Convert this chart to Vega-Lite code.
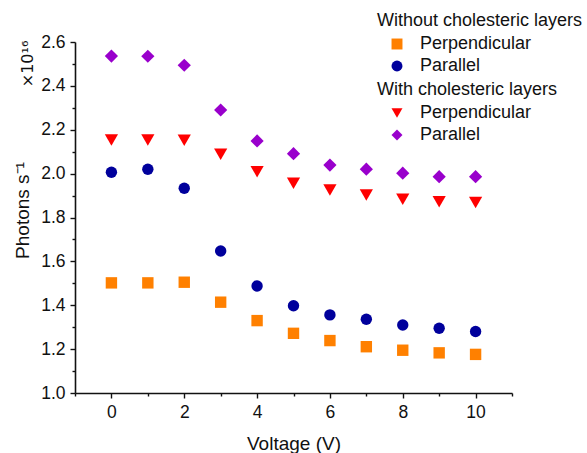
{
  "$schema": "https://vega.github.io/schema/vega-lite/v6.json",
  "width": 437,
  "height": 351,
  "autosize": "none",
  "padding": {"left": 75, "top": 42, "right": 75, "bottom": 60},
  "background": "white",
  "config": {
    "font": "Liberation Sans",
    "view": {"stroke": null},
    "axis": {
      "grid": false,
      "ticks": true,
      "tickColor": "#111",
      "tickSize": 5,
      "tickWidth": 1.4,
      "domainColor": "#111",
      "domainWidth": 1.6,
      "labelColor": "#111",
      "titleColor": "#111",
      "labelFont": "Liberation Sans",
      "titleFont": "Liberation Sans",
      "labelFontSize": 17.5,
      "titleFontSize": 19,
      "titleFontWeight": "normal"
    },
    "legend": {
      "titleFont": "Liberation Sans",
      "labelFont": "Liberation Sans",
      "titleFontSize": 18,
      "titleFontWeight": "normal",
      "titleColor": "#111",
      "labelFontSize": 18,
      "labelColor": "#111",
      "padding": 0,
      "rowPadding": 4,
      "titlePadding": 5,
      "symbolOffset": 11,
      "labelOffset": 14,
      "symbolSize": 120,
      "symbolStrokeWidth": 0,
      "titleLimit": 400,
      "labelLimit": 300
    }
  },
  "data": {
    "values": [
      {"group": "Without", "series": "Perpendicular", "voltage": 0, "photons": 1.502},
      {"group": "Without", "series": "Perpendicular", "voltage": 1, "photons": 1.502},
      {"group": "Without", "series": "Perpendicular", "voltage": 2, "photons": 1.505},
      {"group": "Without", "series": "Perpendicular", "voltage": 3, "photons": 1.414},
      {"group": "Without", "series": "Perpendicular", "voltage": 4, "photons": 1.33},
      {"group": "Without", "series": "Perpendicular", "voltage": 5, "photons": 1.272},
      {"group": "Without", "series": "Perpendicular", "voltage": 6, "photons": 1.239},
      {"group": "Without", "series": "Perpendicular", "voltage": 7, "photons": 1.211},
      {"group": "Without", "series": "Perpendicular", "voltage": 8, "photons": 1.195},
      {"group": "Without", "series": "Perpendicular", "voltage": 9, "photons": 1.183},
      {"group": "Without", "series": "Perpendicular", "voltage": 10, "photons": 1.176},
      {"group": "Without", "series": "Parallel", "voltage": 0, "photons": 2.006},
      {"group": "Without", "series": "Parallel", "voltage": 1, "photons": 2.02},
      {"group": "Without", "series": "Parallel", "voltage": 2, "photons": 1.933},
      {"group": "Without", "series": "Parallel", "voltage": 3, "photons": 1.647},
      {"group": "Without", "series": "Parallel", "voltage": 4, "photons": 1.488},
      {"group": "Without", "series": "Parallel", "voltage": 5, "photons": 1.398},
      {"group": "Without", "series": "Parallel", "voltage": 6, "photons": 1.356},
      {"group": "Without", "series": "Parallel", "voltage": 7, "photons": 1.336},
      {"group": "Without", "series": "Parallel", "voltage": 8, "photons": 1.31},
      {"group": "Without", "series": "Parallel", "voltage": 9, "photons": 1.295},
      {"group": "Without", "series": "Parallel", "voltage": 10, "photons": 1.28},
      {"group": "With", "series": "Perpendicular", "voltage": 0, "photons": 2.153},
      {"group": "With", "series": "Perpendicular", "voltage": 1, "photons": 2.153},
      {"group": "With", "series": "Perpendicular", "voltage": 2, "photons": 2.152},
      {"group": "With", "series": "Perpendicular", "voltage": 3, "photons": 2.088},
      {"group": "With", "series": "Perpendicular", "voltage": 4, "photons": 2.009},
      {"group": "With", "series": "Perpendicular", "voltage": 5, "photons": 1.956},
      {"group": "With", "series": "Perpendicular", "voltage": 6, "photons": 1.925},
      {"group": "With", "series": "Perpendicular", "voltage": 7, "photons": 1.903},
      {"group": "With", "series": "Perpendicular", "voltage": 8, "photons": 1.883},
      {"group": "With", "series": "Perpendicular", "voltage": 9, "photons": 1.872},
      {"group": "With", "series": "Perpendicular", "voltage": 10, "photons": 1.868},
      {"group": "With", "series": "Parallel", "voltage": 0, "photons": 2.536},
      {"group": "With", "series": "Parallel", "voltage": 1, "photons": 2.535},
      {"group": "With", "series": "Parallel", "voltage": 2, "photons": 2.494},
      {"group": "With", "series": "Parallel", "voltage": 3, "photons": 2.29},
      {"group": "With", "series": "Parallel", "voltage": 4, "photons": 2.149},
      {"group": "With", "series": "Parallel", "voltage": 5, "photons": 2.091},
      {"group": "With", "series": "Parallel", "voltage": 6, "photons": 2.039},
      {"group": "With", "series": "Parallel", "voltage": 7, "photons": 2.02},
      {"group": "With", "series": "Parallel", "voltage": 8, "photons": 2.002},
      {"group": "With", "series": "Parallel", "voltage": 9, "photons": 1.986},
      {"group": "With", "series": "Parallel", "voltage": 10, "photons": 1.986}
    ]
  },
  "layer": [
    {
      "transform": [{"filter": "datum.group == 'Without'"}],
      "mark": {"type": "point", "filled": true, "opacity": 1, "size": 130},
      "encoding": {
        "x": {
          "field": "voltage",
          "type": "quantitative",
          "scale": {"domain": [-1, 11], "nice": false, "zero": false},
          "axis": {
            "title": "Voltage (V)",
            "tickCount": 12,
            "labelExpr": "datum.value % 2 == 0 && datum.value >= 0 && datum.value <= 10 ? datum.label : ''",
            "tickSize": {"condition": {"test": "abs(datum.value % 2) == 1", "value": 3}, "value": 5},
            "labelPadding": 5,
            "labelFlush": false,
            "titleBaseline": "alphabetic",
            "titleY": 56
          }
        },
        "y": {
          "field": "photons",
          "type": "quantitative",
          "scale": {"domain": [1.0, 2.6], "nice": false, "zero": false},
          "axis": {
            "title": "Photons s⁻¹",
            "tickCount": 16,
            "format": ".1f",
            "labelExpr": "round(datum.value * 10) % 2 == 0 ? datum.label : ''",
            "tickSize": {"condition": {"test": "round(datum.value * 10) % 2 == 1", "value": 3}, "value": 5},
            "labelPadding": 5,
            "labelFlush": false,
            "titleBaseline": "alphabetic",
            "titleX": -47,
            "titleY": 168
          }
        },
        "color": {
          "field": "series",
          "type": "nominal",
          "scale": {"domain": ["Perpendicular", "Parallel"], "range": ["#FF8000", "#00009C"]},
          "legend": {"title": "Without cholesteric layers", "orient": "none", "legendX": 302, "legendY": -30}
        },
        "shape": {
          "field": "series",
          "type": "nominal",
          "scale": {"domain": ["Perpendicular", "Parallel"], "range": ["square", "circle"]},
          "legend": {"title": "Without cholesteric layers", "orient": "none", "legendX": 302, "legendY": -30}
        }
      }
    },
    {
      "transform": [{"filter": "datum.group == 'With'"}],
      "mark": {"type": "point", "filled": true, "opacity": 1, "size": 175},
      "encoding": {
        "x": {"field": "voltage", "type": "quantitative"},
        "y": {"field": "photons", "type": "quantitative"},
        "color": {
          "field": "series",
          "type": "nominal",
          "scale": {"domain": ["Perpendicular", "Parallel"], "range": ["#FF0000", "#9900CC"]},
          "legend": {"title": "With cholesteric layers", "orient": "none", "legendX": 302, "legendY": 39}
        },
        "shape": {
          "field": "series",
          "type": "nominal",
          "scale": {"domain": ["Perpendicular", "Parallel"], "range": ["triangle-down", "diamond"]},
          "legend": {"title": "With cholesteric layers", "orient": "none", "legendX": 302, "legendY": 39}
        }
      }
    },
    {
      "data": {"values": [{"voltage": -2.3, "photons": 2.5, "label": "×10¹⁶"}]},
      "mark": {"type": "text", "angle": 270, "align": "center", "baseline": "middle", "fontSize": 16, "font": "DejaVu Sans", "color": "#111"},
      "encoding": {
        "x": {"field": "voltage", "type": "quantitative"},
        "y": {"field": "photons", "type": "quantitative"},
        "text": {"field": "label"}
      }
    }
  ],
  "resolve": {"scale": {"color": "independent", "shape": "independent"}}
}
